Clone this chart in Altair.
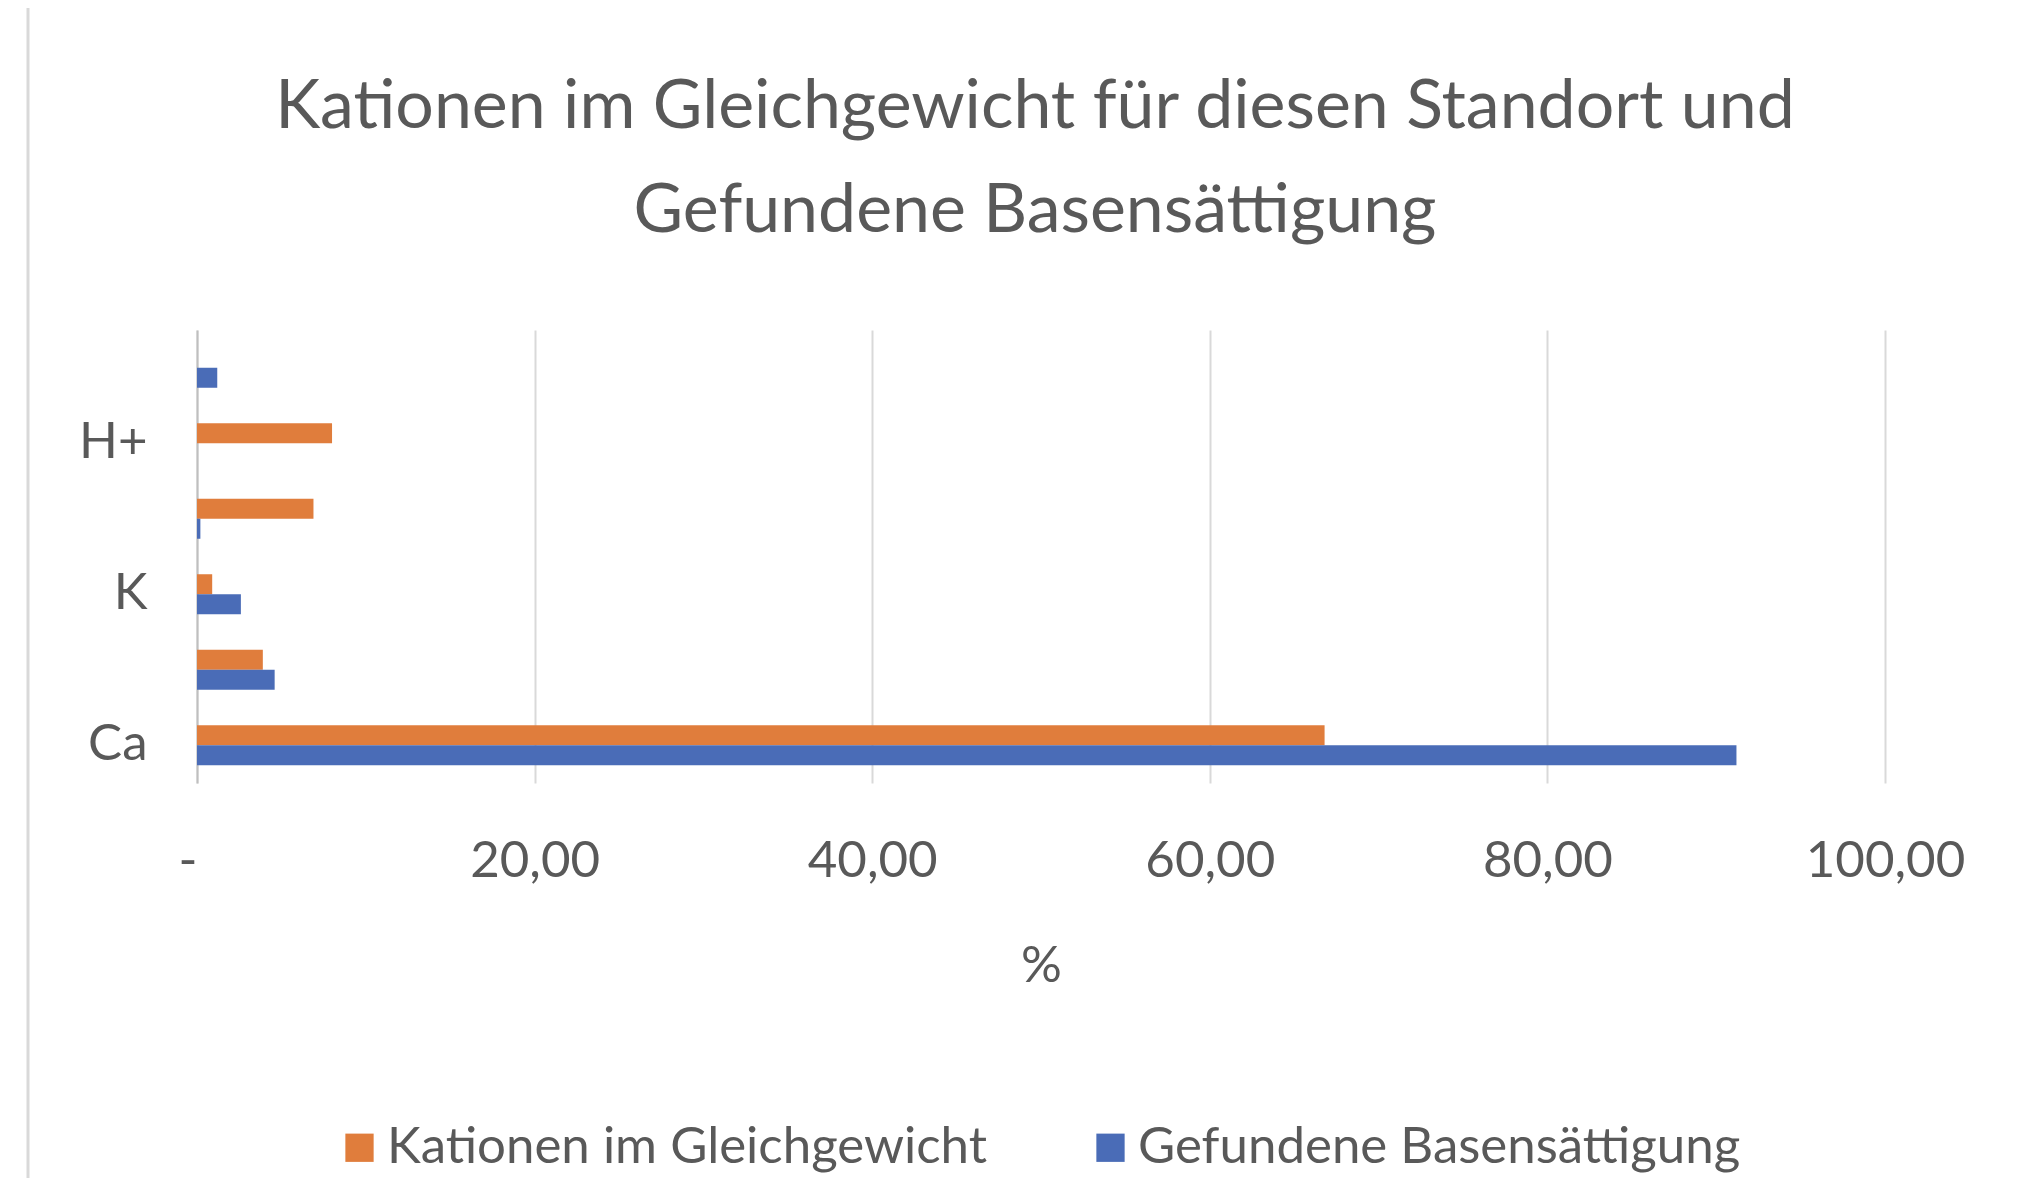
import json
import altair as alt
import pandas as pd

# ---- data ----
categories = ["Ca", "Mg", "K", "Na", "H+", "Al"]          # bottom -> top
series_names = ["Kationen im Gleichgewicht", "Gefundene Basensättigung"]
kationen = [66.8, 3.9, 0.9, 6.9, 8.0, 0.0]
basen = [91.2, 4.6, 2.6, 0.2, 0.0, 1.2]
shown_labels = ["Ca", "K", "H+"]
x_ticks = [0, 20, 40, 60, 80, 100]
title_lines = ["Kationen im Gleichgewicht für diesen Standort und",
               "Gefundene Basensättigung"]
colors = ["#E07D3C", "#4A6CB7"]

rows = []
for c, k, b in zip(categories, kationen, basen):
    rows.append({"Kation": c, "Serie": series_names[0], "Wert": k})
    rows.append({"Kation": c, "Serie": series_names[1], "Wert": b})
df = pd.DataFrame(rows)

W, H = 1688, 453
PAD_L, PAD_T, PAD_R, PAD_B = 189, 322, 130, 395
FONT = "Lato"
GRAY = "#595959"
FS = 51

label_expr_y = "indexof(%s, datum.value) >= 0 ? datum.value : ''" % json.dumps(shown_labels)
label_expr_x = "datum.value == 0 ? '-' : replace(format(datum.value, '.2f'), '.', ',')"

bars = alt.Chart(df).mark_bar().encode(
    x=alt.X(
        "Wert:Q",
        scale=alt.Scale(domain=[0, 100], nice=False),
        axis=alt.Axis(
            values=x_ticks, labelExpr=label_expr_x, title="%",
            grid=True, gridColor="#D9D9D9", gridWidth=2,
            domain=False, ticks=False, labelFlush=False,
            labelAlign={"condition": {"test": "datum.value == 0", "value": "right"},
                        "value": "center"},
            labelFont=FONT, labelFontSize=FS, labelColor=GRAY, labelPadding=53,
            titleFont=FONT, titleFontSize=FS, titleColor=GRAY,
            titleFontWeight="normal", titlePadding=55,
        ),
    ),
    y=alt.Y(
        "Kation:N",
        sort=list(reversed(categories)),
        scale=alt.Scale(paddingInner=0.47, paddingOuter=0.235),
        axis=alt.Axis(
            labelExpr=label_expr_y, title=None, ticks=False,
            domain=True, domainColor="#BFBFBF", domainWidth=2,
            labelFont=FONT, labelFontSize=FS, labelColor=GRAY, labelPadding=50,
            grid=False,
        ),
    ),
    yOffset=alt.YOffset("Serie:N", sort=series_names,
                        scale=alt.Scale(paddingInner=0, paddingOuter=0)),
    color=alt.Color(
        "Serie:N",
        scale=alt.Scale(domain=series_names, range=colors),
        legend=alt.Legend(
            title=None, orient="none", legendX=137, legendY=792,
            direction="horizontal", symbolType="square", symbolSize=800,
            symbolStrokeWidth=0, labelFont=FONT, labelFontSize=FS,
            labelColor=GRAY, labelOffset=2, columnPadding=98,
            labelLimit=1000,
        ),
    ),
)

title = alt.Chart(pd.DataFrame({"d": [0]})).mark_text(
    font=FONT, fontSize=68, color=GRAY, lineHeight=104,
    align="center", baseline="alphabetic",
).encode(
    x=alt.value(W / 2 - 6),
    y=alt.value(128 - 8 - PAD_T),
    text=alt.value(title_lines),
)

border = alt.Chart(pd.DataFrame({"d": [0]})).mark_rule(
    color="#D9D9D9", strokeWidth=3
).encode(
    x=alt.value(28 - 8 - PAD_L),
    y=alt.value(-PAD_T),
    y2=alt.value(H + PAD_B),
)

chart = alt.layer(border, title, bars).properties(
    width=W,
    height=H,
    autosize=alt.AutoSizeParams(type="none"),
    padding={"left": PAD_L, "top": PAD_T, "right": PAD_R, "bottom": PAD_B},
    background="white",
).configure_view(stroke=None)

chart.save("out.html", embed_options={"renderer": "svg", "actions": False})
